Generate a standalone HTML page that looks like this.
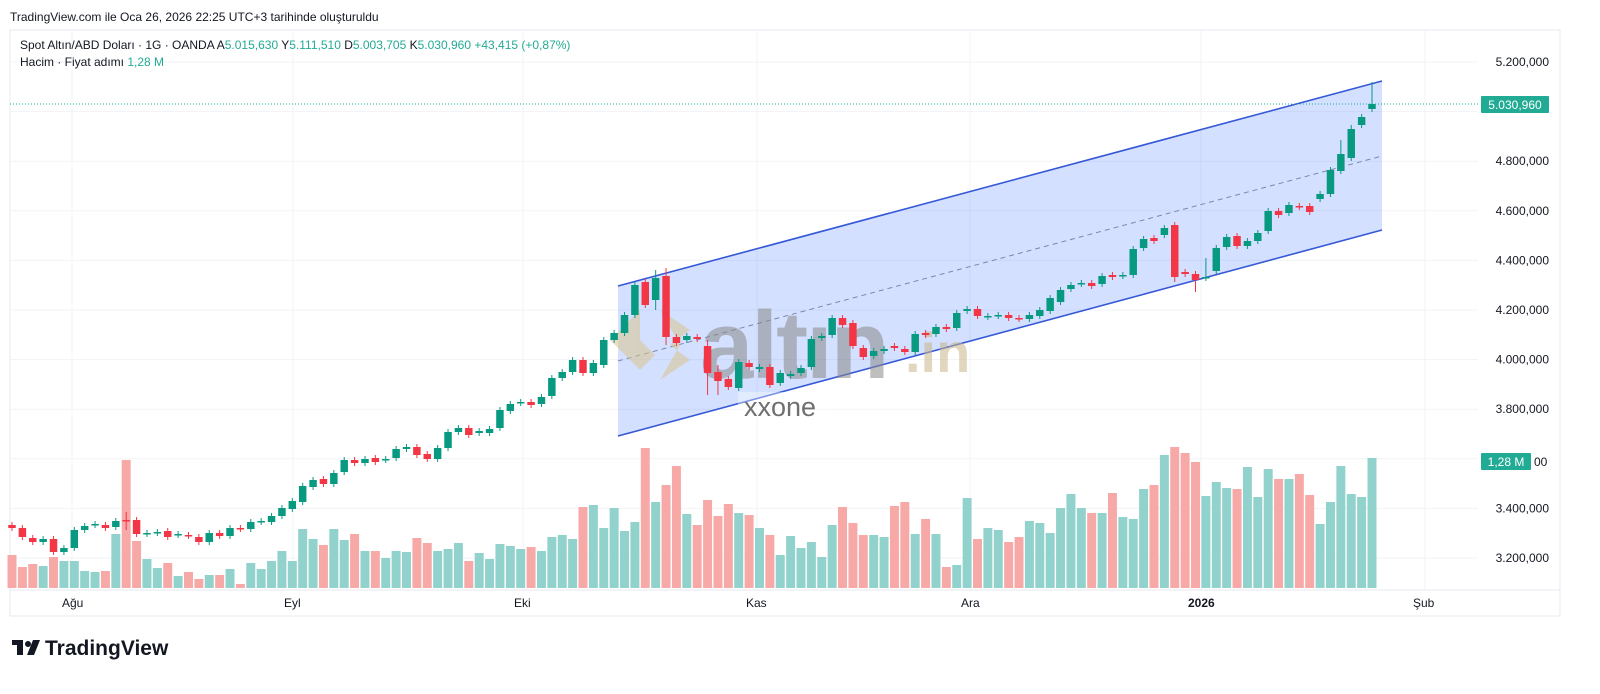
<!DOCTYPE html>
<html><head><meta charset="utf-8"><style>
html,body{margin:0;padding:0;background:#fff;width:1600px;height:694px;overflow:hidden}
svg{display:block}
text{font-family:"Liberation Sans","DejaVu Sans",sans-serif}
</style></head><body>
<svg id="s" width="1600" height="694" xmlns="http://www.w3.org/2000/svg">
<rect width="1600" height="694" fill="#fff"/>
<g id="grid"></g>
<rect x="10" y="30" width="1550" height="586" fill="none" stroke="#e6e9ef" stroke-width="1"/>
<line x1="10" y1="590" x2="1560" y2="590" stroke="#e6e9ef"/>
<g id="vol"></g>
<polygon points="618,286 1382,81 1382,230 618,436" fill="rgba(41,98,255,0.2)"/>
<line x1="618" y1="286" x2="1382" y2="81" stroke="#3558d8" stroke-width="1.6"/>
<line x1="618" y1="436" x2="1382" y2="230" stroke="#3558d8" stroke-width="1.6"/>
<line x1="618" y1="361" x2="1382" y2="156" stroke="#7b88a8" stroke-width="1" stroke-dasharray="5,4"/>
<g opacity="0.55">
<polygon points="640,310 625,325 610,340 625,355 640,370 655,355 640,340" fill="#d9c48f"/>
<polygon points="660,310 690,330 670,345 690,360 660,380 680,345" fill="#d9c48f"/>
<text x="700" y="378" font-size="96" font-weight="bold" fill="#8a8a8a" letter-spacing="-2">altın</text>
<text x="905" y="372" font-size="56" font-weight="bold" fill="#c9b68a">.in</text>
</g>
<rect x="738" y="392" width="92" height="26" fill="rgba(255,255,255,0.35)"/>
<text x="744" y="416" font-size="27" fill="#6f6f6f">xxone</text>
<g id="cdl"></g>
<line x1="10" y1="104" x2="1478" y2="104" stroke="#22ab94" stroke-width="1" stroke-dasharray="1,2"/>
<g id="axis" font-size="12" fill="#131722"></g>
<rect x="1481" y="96" width="68" height="17" fill="#22ab94" rx="1"/>
<text x="1515" y="109" font-size="12" fill="#fff" text-anchor="middle">5.030,960</text>
<rect x="1481" y="453" width="50" height="17" fill="#22ab94" rx="1"/>
<text x="1506" y="466" font-size="12" fill="#fff" text-anchor="middle">1,28 M</text>
<text x="1534" y="466" font-size="12" fill="#131722">00</text>
<g font-size="12" fill="#131722">
<text x="62" y="607">Ağu</text><text x="284" y="607">Eyl</text><text x="514" y="607">Eki</text>
<text x="746" y="607">Kas</text><text x="961" y="607">Ara</text>
<text x="1188" y="607" font-weight="bold">2026</text><text x="1413" y="607">Şub</text>
</g>
<text x="10" y="21" font-size="12" fill="#131722">TradingView.com ile Oca 26, 2026 22:25 UTC+3 tarihinde oluşturuldu</text>
<text x="20" y="49" font-size="12" fill="#131722">Spot Altın/ABD Doları · 1G · OANDA  A<tspan fill="#22ab94">5.015,630</tspan>  Y<tspan fill="#22ab94">5.111,510</tspan>  D<tspan fill="#22ab94">5.003,705</tspan>  K<tspan fill="#22ab94">5.030,960</tspan>  <tspan fill="#22ab94">+43,415 (+0,87%)</tspan></text>
<text x="20" y="66" font-size="12" fill="#131722">Hacim · Fiyat adımı  <tspan fill="#22ab94">1,28 M</tspan></text>
<g transform="translate(12,638)">
<rect x="0" y="2" width="11" height="5" fill="#131722"/><rect x="5" y="2" width="6" height="15" fill="#131722"/>
<circle cx="16" cy="6" r="3" fill="#131722"/><polygon points="21,2 28,2 22,17 15,17" fill="#131722"/>
<text x="33" y="17" font-size="21" font-weight="bold" fill="#131722">TradingView</text>
</g>
</svg>
<script>
var NS="http://www.w3.org/2000/svg";
function el(p,t,a){var e=document.createElementNS(NS,t);for(var k in a)e.setAttribute(k,a[k]);p.appendChild(e);return e;}
var grid=document.getElementById('grid'),axis=document.getElementById('axis');
var labels=["5.200,000","5.000,000","4.800,000","4.600,000","4.400,000","4.200,000","4.000,000","3.800,000","3.600,000","3.400,000","3.200,000"];
for(var i=0;i<11;i++){var y=62+i*49.6;el(grid,'line',{x1:10,y1:y,x2:1478,y2:y,stroke:'#f1f3f7'});
 if(i!=1&&i!=8){var t=el(axis,'text',{x:1549,y:y+4,'text-anchor':'end'});t.textContent=labels[i];}}
[72,293,523,757,970,1201,1425].forEach(function(x){el(grid,'line',{x1:x,y1:30,x2:x,y2:590,stroke:'#f1f3f7'});});
var C=[[525,528],[528,537],[538,542],[542,539],[539,552],[552,548],[548,530],[530,526],[525,524],[525,528],[527,521],[520,521],[520,534],[534,533],[533,532],[531,537],[535,534],[535,536],[537,542],[542,533],[533,536],[536,528],[528,529],[529,522],[522,521],[522,516],[516,508],[509,501],[502,486],[487,480],[479,484],[484,473],[472,460],[460,463],[463,459],[458,462],[460,459],[458,449],[449,447],[447,455],[454,459],[459,448],[448,432],[432,428],[428,435],[433,431],[433,429],[428,410],[411,404],[403,402],[402,405],[404,397],[396,378],[378,372],[372,360],
[360,373],[373,363],[365,340],[340,333],[333,315],[315,285],[282,305],[300,278],[276,337],[337,343],[340,336],[337,339],[346,373],[372,381],[379,387],[388,362],[363,367],[369,367],[367,385],[383,373],[376,374],[373,368],[367,339],[338,336],[335,318],[318,325],[323,346],[348,357],[356,351],[351,349],[346,348],[349,352],[352,334],[333,335],[334,327],[327,329],[328,313],[311,309],[309,316],[317,316],[316,315],[315,318],[318,319],[319,315],[316,310],[311,298],[302,290],
[289,285],[284,283],[283,286],[284,276],[275,277],[276,275],[275,249],[248,239],[238,241],[235,228],[225,277],[272,274],[274,280],[278,277],[271,248],[247,237],[236,246],[246,241],[241,233],[231,211],[211,215],[213,205],[206,207],[206,212],[199,194],[194,170],[171,154],[158,129],[125,117],[109,104]];
var V=[555,567,564,566,557,561,561,571,572,571,534,460,541,559,568,563,576,572,579,575,575,569,584,563,569,561,551,561,529,539,545,529,540,534,551,551,558,551,552,538,543,551,549,543,561,553,559,544,546,549,547,551,537,535,539,
507,505,528,508,531,522,448,502,485,466,514,525,500,516,504,513,515,528,535,555,536,548,542,557,525,507,523,535,535,537,506,502,534,519,534,567,565,498,539,528,530,542,537,521,523,533,508,
494,508,513,513,493,517,519,489,485,455,447,453,462,496,482,488,489,467,497,469,479,479,474,495,524,502,466,494,497,458];
var N=C.length,x0=12,x1=1372,sp=(x1-x0)/(N-1),w=sp*0.72;
var vg=document.getElementById('vol'),cg=document.getElementById('cdl');
var wk={11:[512,530],62:[270,310],63:[268,345],67:[340,395],68:[365,395],112:[225,282],114:[272,292],115:[258,280],128:[140,172],129:[125,160],131:[82,110]};
for(var i=0;i<N;i++){var o=C[i][0],c=C[i][1],up=c<=o;var x=x0+i*sp;
 var col=up?'#089981':'#f23645',vcol=up?'#92d2cc':'#f7a9a7';
 var v=V[i]||540;el(vg,'rect',{x:x-sp/2+0.7,y:v,width:sp-1.4,height:588-v,fill:vcol});
 var t=Math.min(o,c),b=Math.max(o,c);var hi=t-3,lo=b+3;if(wk[i]){hi=Math.min(hi,wk[i][0]);lo=Math.max(lo,wk[i][1]);}
 el(cg,'line',{x1:x,y1:hi,x2:x,y2:lo,stroke:col,'stroke-width':1});
 el(cg,'rect',{x:x-w/2,y:t,width:w,height:Math.max(1.5,b-t),fill:col});}
</script>
</body></html>
